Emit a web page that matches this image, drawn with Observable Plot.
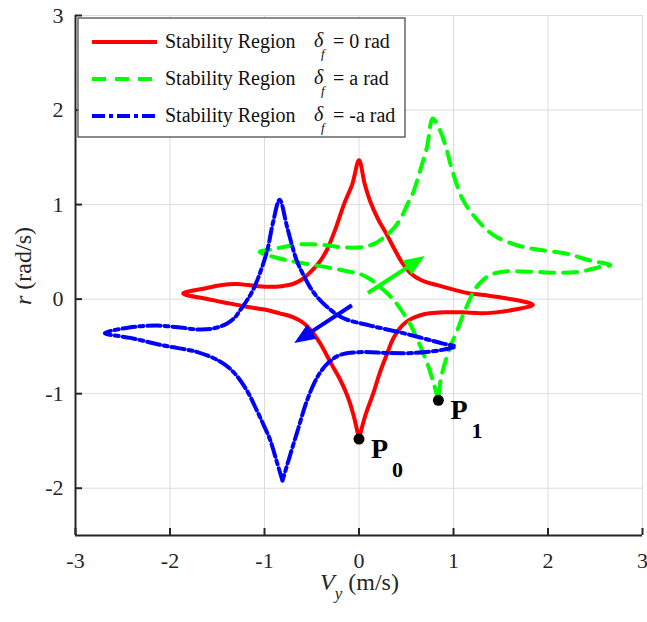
<!DOCTYPE html>
<html><head><meta charset="utf-8">
<script src="https://cdn.jsdelivr.net/npm/d3@7"></script>
<script src="https://cdn.jsdelivr.net/npm/@observablehq/plot@0.6"></script>
<style>
html,body{margin:0;padding:0;background:#fff;}
#chart{position:relative;width:647px;height:622px;font-family:"Liberation Serif";}
#overlay{position:absolute;left:0;top:0;pointer-events:none;}
</style></head><body><div id="chart"></div>
<script>
// ---- data ----
const xTicks = [-3, -2, -1, 0, 1, 2, 3];
const yTicks = [-2, -1, 0, 1, 2, 3];

// delta_f = 0 rad (red)
const redX = [0.00,-0.06,-0.12,-0.20,-0.29,-0.41,-0.50,-0.59,-0.70,-0.84,-1.00,-1.19,-1.40,-1.60,-1.86,
  -1.65,-1.45,-1.30,-1.10,-0.94,-0.80,-0.70,-0.60,-0.52,-0.42,-0.34,-0.25,-0.16,-0.07,0.00,
  0.06,0.12,0.20,0.29,0.38,0.46,0.54,0.66,0.82,1.00,1.17,1.35,1.55,1.84,
  1.65,1.45,1.28,1.10,0.90,0.75,0.65,0.57,0.49,0.43,0.36,0.30,0.22,0.15,0.07,0.00];
const redY = [-1.48,-1.22,-1.03,-0.85,-0.69,-0.47,-0.34,-0.25,-0.19,-0.15,-0.11,-0.08,-0.04,0.00,0.06,
  0.11,0.15,0.16,0.14,0.13,0.14,0.16,0.21,0.28,0.39,0.52,0.74,1.00,1.22,1.47,
  1.22,1.03,0.85,0.69,0.52,0.38,0.28,0.20,0.15,0.10,0.06,0.04,0.01,-0.06,
  -0.11,-0.14,-0.15,-0.14,-0.14,-0.15,-0.17,-0.20,-0.25,-0.31,-0.42,-0.57,-0.78,-1.00,-1.22,-1.48];

// delta_f = a rad (green)
const greenX = [0.84,0.79,0.74,0.68,0.61,0.54,0.47,0.40,0.33,0.22,0.12,0.00,-0.10,-0.30,-0.59,-0.84,-1.05,
  -0.90,-0.76,-0.60,-0.49,-0.35,-0.20,0.04,0.17,0.26,0.36,0.45,0.51,0.57,0.65,0.72,0.78,
  0.86,0.93,0.99,1.10,1.25,1.42,1.67,1.92,2.20,2.44,2.66,
  2.55,2.34,2.09,1.81,1.52,1.40,1.31,1.23,1.17,1.10,1.04,0.98,0.93,0.88,0.86,0.84];
const greenY = [-1.07,-0.89,-0.73,-0.57,-0.41,-0.26,-0.15,-0.05,0.03,0.13,0.21,0.27,0.29,0.33,0.38,0.43,0.50,
  0.53,0.56,0.58,0.58,0.57,0.55,0.55,0.59,0.65,0.74,0.87,1.00,1.12,1.37,1.61,1.91,
  1.78,1.57,1.35,1.05,0.84,0.68,0.57,0.52,0.48,0.41,0.36,
  0.34,0.29,0.28,0.29,0.29,0.26,0.20,0.11,-0.01,-0.17,-0.33,-0.47,-0.61,-0.78,-0.88,-1.07];

// delta_f = -a rad (blue)
const blueX = [-0.81,-0.87,-0.94,-1.01,-1.08,-1.19,-1.33,-1.47,-1.71,-2.07,-2.42,-2.69,
  -2.43,-2.14,-1.89,-1.71,-1.54,-1.40,-1.31,-1.26,-1.19,-1.12,-1.05,-0.97,-0.91,-0.84,
  -0.76,-0.66,-0.59,-0.52,-0.44,-0.34,-0.17,0.12,0.47,0.89,1.02,
  0.86,0.57,0.30,0.04,-0.20,-0.31,-0.40,-0.47,-0.56,-0.64,-0.72,-0.81];
const blueY = [-1.92,-1.72,-1.49,-1.33,-1.18,-0.96,-0.77,-0.66,-0.56,-0.49,-0.41,-0.36,
  -0.30,-0.28,-0.30,-0.32,-0.31,-0.26,-0.19,-0.12,-0.02,0.10,0.27,0.52,0.81,1.05,
  0.76,0.41,0.26,0.13,0.02,-0.08,-0.20,-0.28,-0.36,-0.47,-0.50,
  -0.54,-0.57,-0.57,-0.56,-0.59,-0.66,-0.76,-0.88,-1.10,-1.36,-1.62,-1.92];

const seriesLabel = ["Stability Region", "Stability Region", "Stability Region"];
const deltaValue = ["0", "a", "-a"];

const pointName = ["P", "P"];
const pointSub = ["0", "1"];
const pointX = [0.00, 0.84];
const pointY = [-1.48, -1.07];

const arrowX1 = [0.10, -0.07];
const arrowY1 = [0.06, -0.07];
const arrowX2 = [0.70, -0.68];
const arrowY2 = [0.45, -0.47];

// ---- styles ----
const colors = ["#ff0000", "#00ff00", "#0000ff"];
const dashes = [null, "14,9", "13,4,4,4"];
const arrowColors = ["#00ff00", "#0000ff"];

const toRows = (xs, ys) => xs.map((x, i) => ({x, y: ys[i]}));
const curves = [toRows(redX, redY), toRows(greenX, greenY), toRows(blueX, blueY)];
const points = pointX.map((x, i) => ({x, y: pointY[i], name: pointName[i], sub: pointSub[i]}));
const arrows = arrowX1.map((x1, i) => ({x1, y1: arrowY1[i], x2: arrowX2[i], y2: arrowY2[i], color: arrowColors[i]}));

const W = 647, H = 622, mL = 75, mR = 5, mT = 15, mB = 87;
const plotW = W - mL - mR, plotH = H - mT - mB;

function arrowMark(index, scales) {
  const sx = scales.x, sy = scales.y;
  const ns = "http://www.w3.org/2000/svg";
  const g = document.createElementNS(ns, "g");
  arrows.forEach(a => {
    const x1 = sx(a.x1), y1 = sy(a.y1), x2 = sx(a.x2), y2 = sy(a.y2);
    const dx = x2 - x1, dy = y2 - y1, len = Math.hypot(dx, dy), ux = dx / len, uy = dy / len;
    const L = 21, Wd = 8.5;
    const bx = x2 - ux * L, by = y2 - uy * L;
    const ln = document.createElementNS(ns, "line");
    ln.setAttribute("x1", x1); ln.setAttribute("y1", y1);
    ln.setAttribute("x2", bx + ux * 3); ln.setAttribute("y2", by + uy * 3);
    ln.setAttribute("stroke", a.color); ln.setAttribute("stroke-width", 4);
    g.appendChild(ln);
    const p = document.createElementNS(ns, "path");
    p.setAttribute("d", `M${x2},${y2}L${bx - uy * Wd},${by + ux * Wd}L${bx + uy * Wd},${by - ux * Wd}Z`);
    p.setAttribute("fill", a.color);
    g.appendChild(p);
  });
  return g;
}

const chart = Plot.plot({
  width: W, height: H,
  marginLeft: mL, marginRight: mR, marginTop: mT, marginBottom: mB,
  style: {fontFamily: "Liberation Serif", fontSize: "22px", background: "white", color: "#262626"},
  x: {domain: [-3, 3], ticks: xTicks, tickSize: 0, tickPadding: 17, tickFormat: d => String(d), label: null},
  y: {domain: [-2.5, 3], ticks: yTicks, tickSize: 0, tickPadding: 12, tickFormat: d => String(d), label: null},
  marks: [
    Plot.ruleX(xTicks, {stroke: "#dcdcdc", strokeWidth: 1}),
    Plot.ruleY(yTicks, {stroke: "#dcdcdc", strokeWidth: 1}),
    Plot.ruleX([-3], {stroke: "#262626", strokeWidth: 2}),
    Plot.ruleY([-2.5], {stroke: "#262626", strokeWidth: 2}),
    Plot.tickX(xTicks, {x: d => d, stroke: "#262626", strokeWidth: 2, insetTop: plotH - 7}),
    Plot.tickY(yTicks, {y: d => d, stroke: "#262626", strokeWidth: 2, insetRight: plotW - 7}),
    ...curves.map((c, i) => Plot.line(c, {x: "x", y: "y", stroke: colors[i], strokeWidth: 4,
      strokeDasharray: dashes[i], curve: "catmull-rom", strokeLinejoin: "round"})),
    arrowMark,
    Plot.dot(points, {x: "x", y: "y", r: 5.5, fill: "black"}),
    Plot.text(points, {x: "x", y: "y", text: "name", dx: 12, dy: 10, textAnchor: "start", fontSize: 28, fontWeight: "bold", fill: "black"}),
    Plot.text(points, {x: "x", y: "y", text: "sub", dx: 33, dy: 31, textAnchor: "start", fontSize: 22, fontWeight: "bold", fill: "black"})
  ]
});

const root = document.getElementById("chart");
root.appendChild(chart);

// overlay: legend and axis labels
const rowsY = [42, 79, 116];
let s = `<svg id="overlay" width="${W}" height="${H}" xmlns="http://www.w3.org/2000/svg" font-family="Liberation Serif">`;
s += `<rect x="78" y="18" width="327" height="119" fill="white" stroke="#4d4d4d" stroke-width="1.3"/>`;
rowsY.forEach((yy, i) => {
  s += `<line x1="92" y1="${yy}" x2="157" y2="${yy}" stroke="${colors[i]}" stroke-width="4" ${dashes[i] ? `stroke-dasharray="${dashes[i]}"` : ""}/>`;
  s += `<text x="165" y="${yy + 6}" font-size="20" fill="#111">${seriesLabel[i]}</text>`;
  s += `<text x="314" y="${yy + 5}" font-size="20" font-style="italic" fill="#111">δ</text>`;
  s += `<text x="321" y="${yy + 16}" font-size="13" font-style="italic" fill="#111">f</text>`;
  s += `<text x="333" y="${yy + 6}" font-size="20" fill="#111">= ${deltaValue[i]} rad</text>`;
});
s += `<text x="320" y="590" font-size="24" fill="#262626"><tspan font-style="italic">V</tspan><tspan font-style="italic" font-size="17" dy="9">y</tspan><tspan dy="-9"> (m/s)</tspan></text>`;
s += `<text transform="translate(31,266) rotate(-90)" text-anchor="middle" font-size="24" fill="#262626"><tspan font-style="italic">r</tspan> (rad/s)</text>`;
s += `</svg>`;
root.insertAdjacentHTML("beforeend", s);
</script></body></html>
